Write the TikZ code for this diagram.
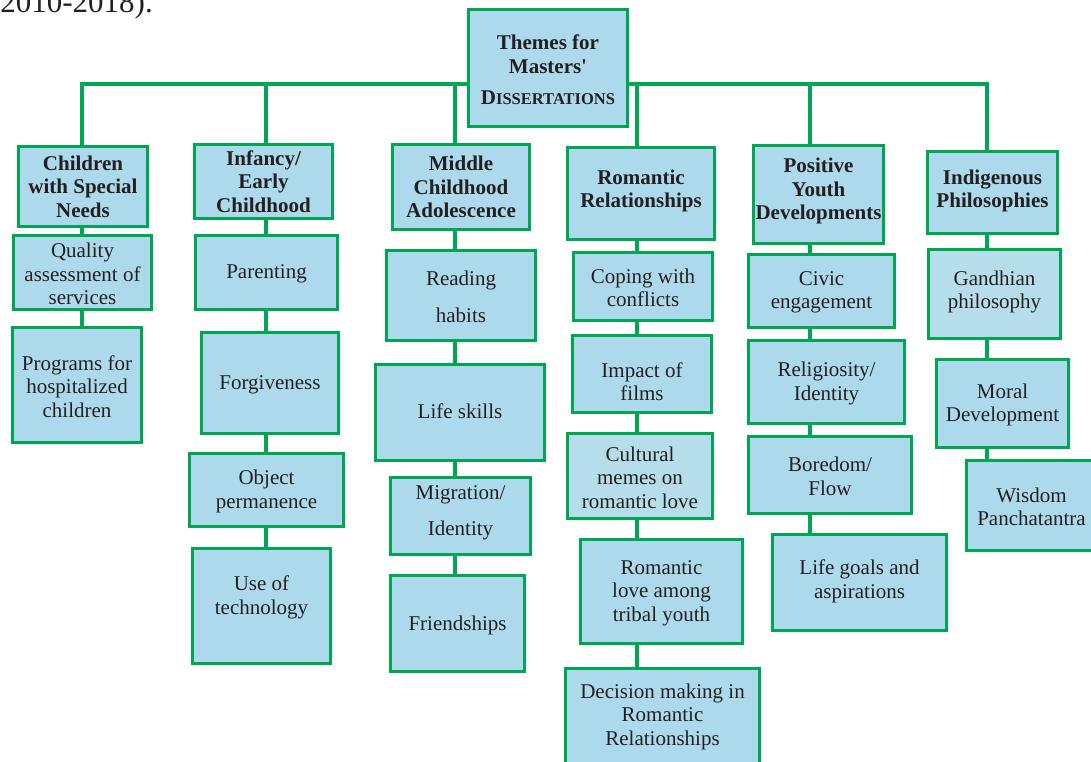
\documentclass[tikz,border=0pt]{standalone}
\usepackage{fontspec}
\setmainfont{Liberation Serif}
\usetikzlibrary{backgrounds}
\definecolor{boxfill}{RGB}{172,218,236}
\definecolor{boxfillpale}{RGB}{182,222,234}
\definecolor{linegreen}{RGB}{0,166,81}
\definecolor{ink}{RGB}{35,31,32}
\begin{document}
\begin{tikzpicture}[x=1pt,y=-1pt,
  box/.style={draw=linegreen, line width=3pt, fill=boxfill, inner sep=0pt},
  pale/.style={fill=boxfillpale},
  sz/.style 2 args={minimum width=#1pt-3pt, minimum height=#2pt-3pt},
  body/.style={text=ink, align=center, inner sep=0pt},
  txt/.style={body, yshift=-1.5pt, font=\fontsize{21}{23.5}\selectfont},
  head/.style={body, font=\fontsize{21}{23.5}\selectfont\bfseries},
  link/.style={draw=linegreen, line width=4pt, line join=miter}]
\path[use as bounding box] (0,0) rectangle (1091,762);
\clip (0,0) rectangle (1091,762);

% running text above the chart
\node[anchor=base east, text=ink, inner sep=0pt, font=\fontsize{31}{31}\selectfont] (yrs) at (153,13) {2010-2018).};

% column positions on the bus line
\coordinate (col1) at (81.5,84);
\coordinate (col2) at (266,84);
\coordinate (col3) at (455,84);
\coordinate (col4) at (637,84);
\coordinate (col5) at (810,84);
\coordinate (col6) at (987,84);

% root
\node[box, sz={162}{120}] (root) at (548,68) {};
\node[body, font=\fontsize{21}{24}\selectfont\bfseries] (roott) at (548,70)
  {Themes for\\Masters\textquotesingle\\[7pt]{\fontsize{21}{24}\selectfont D}{\fontsize{16.5}{24}\selectfont ISSERTATIONS}};

% theme headers
\node[box, sz={132}{83}] (h1) at (83,186.5) {};
\node[head] (h1t) at (h1) {Children\\with Special\\Needs};
\node[box, sz={141}{77}] (h2) at (263.5,181.5) {};
\node[head] (h2t) at (h2) {Infancy/\\Early\\Childhood};
\node[box, sz={140}{88}] (h3) at (461,187) {};
\node[head] (h3t) at (h3) {Middle\\Childhood\\Adolescence};
\node[box, sz={150}{95}] (h4) at (641,193.5) {};
\node[head, yshift=2.5pt] (h4t) at (h4) {Romantic\\Relationships};
\node[box, sz={133}{101}] (h5) at (818.5,194.5) {};
\node[head, yshift=3.5pt] (h5t) at (h5) {Positive\\Youth\\Developments};
\node[box, sz={133}{85}] (h6) at (992.5,192.5) {};
\node[head, yshift=1.5pt] (h6t) at (h6) {Indigenous\\Philosophies};

% column 1
\node[box, sz={141}{77}] (c1a) at (82.5,272.5) {};
\node[txt] (c1at) at (c1a) {Quality\\assessment of\\services};
\node[box, sz={132}{118}] (c1b) at (77,385) {};
\node[txt] (c1bt) at (c1b) {Programs for\\hospitalized\\children};

% column 2
\node[box, sz={145}{77}] (c2a) at (266.5,272.5) {};
\node[txt] (c2at) at (c2a) {Parenting};
\node[box, sz={140}{104}] (c2b) at (270,383) {};
\node[txt] (c2bt) at (c2b) {Forgiveness};
\node[box, sz={157}{76}] (c2c) at (266.5,490) {};
\node[txt] (c2ct) at (c2c) {Object\\permanence};
\node[box, sz={141}{118}] (c2d) at (261.5,606) {};
\node[txt, yshift=10pt] (c2dt) at (c2d) {Use of\\technology};

% column 3
\node[box, sz={152}{93}] (c3a) at (461,295.5) {};
\node[txt] (c3at) at (c3a) {Reading\\[14pt]habits};
\node[box, sz={172}{99}] (c3b) at (460,412.5) {};
\node[txt, yshift=2.5pt] (c3bt) at (c3b) {Life skills};
\node[box, sz={143}{80}] (c3c) at (460.5,516) {};
\node[txt, yshift=4.5pt] (c3ct) at (c3c) {Migration/\\[13pt]Identity};
\node[box, sz={137}{99}] (c3d) at (457.5,623.5) {};
\node[txt] (c3dt) at (c3d) {Friendships};

% column 4
\node[box, sz={142}{71}] (c4a) at (643,286.5) {};
\node[txt] (c4at) at (c4a) {Coping with\\conflicts};
\node[box, sz={142}{80}] (c4b) at (642,374) {};
\node[txt, yshift=-6pt] (c4bt) at (c4b) {Impact of\\films};
\node[box, pale, sz={148}{88}] (c4c) at (640,476) {};
\node[txt] (c4ct) at (c4c) {Cultural\\memes on\\romantic love};
\node[box, sz={165}{107}] (c4d) at (661.5,591.5) {};
\node[txt] (c4dt) at (c4d) {Romantic\\love among\\tribal youth};
\node[box, sz={197}{98}] (c4e) at (662.5,716) {};
\node[txt, yshift=1pt] (c4et) at (c4e) {Decision making in\\Romantic\\Relationships};

% column 5
\node[box, sz={149}{76}] (c5a) at (821.5,291) {};
\node[txt] (c5at) at (c5a) {Civic\\engagement};
\node[box, sz={159}{86}] (c5b) at (826.5,382) {};
\node[txt] (c5bt) at (c5b) {Religiosity/\\Identity};
\node[box, sz={166}{80}] (c5c) at (830,475) {};
\node[txt] (c5ct) at (c5c) {Boredom/\\Flow};
\node[box, sz={177}{99}] (c5d) at (859.5,582.5) {};
\node[txt, yshift=2.5pt] (c5dt) at (c5d) {Life goals and\\aspirations};

% column 6
\node[box, pale, sz={135}{92}] (c6a) at (994.5,294) {};
\node[txt, yshift=3.5pt] (c6at) at (c6a) {Gandhian\\philosophy};
\node[box, sz={135}{91}] (c6b) at (1002.5,403.5) {};
\node[txt] (c6bt) at (c6b) {Moral\\Development};
\node[box, sz={133}{93}] (c6c) at (1031.5,505.5) {};
\node[txt] (c6ct) at (c6c) {Wisdom\\Panchatantra};

% connectors behind the boxes
\begin{pgfonlayer}{background}
  \draw[link] (col1 |- c1b.north) -- (col1) -- (col6) -- (col6 |- c6c.north);
  \draw[link] (col2) -- (col2 |- c2d.north);
  \draw[link] (col3) -- (col3 |- c3d.north);
  \draw[link] (col4) -- (col4 |- c4e.north);
  \draw[link] (col5) -- (col5 |- c5d.north);
\end{pgfonlayer}
\end{tikzpicture}
\end{document}
